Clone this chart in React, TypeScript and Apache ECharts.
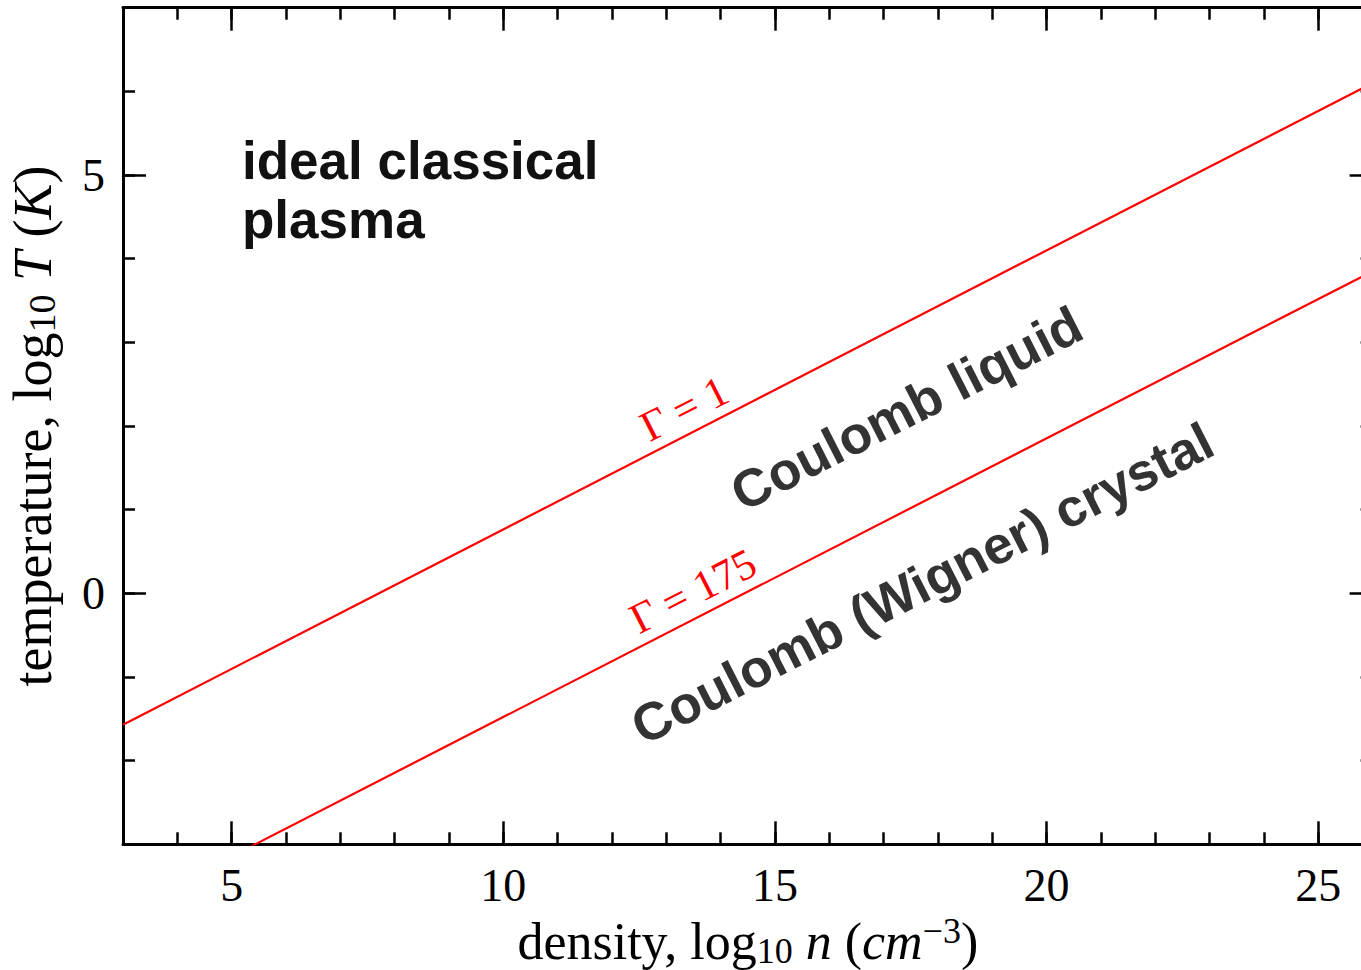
import { useEffect, useRef } from 'react';
import * as echarts from 'echarts';

// axis ranges: log10 n (cm^-3) and log10 T (K)
const X_MIN = 3;
const X_MAX = 26;
const Y_MIN = -3;
const Y_MAX = 7;

const xMajorTicks = [5, 10, 15, 20, 25];
const xMinorTicks = [3, 4, 5, 6, 7, 8, 9, 10, 11, 12, 13, 14, 15, 16, 17, 18, 19, 20, 21, 22, 23, 24, 25, 26];
const yMajorTicks = [0, 5];
const yMinorTicks = [-3, -2, -1, 0, 1, 2, 3, 4, 5, 6, 7];

// coupling-parameter boundaries, end points at the plot edges
const gammaOneLine = [
  [3, -1.57],
  [26, 6.1],
];
const gamma175Line = [
  [3, -3.81],
  [26, 3.85],
];

// annotation anchors (data coordinates)
const boundaryLabels = [
  { text: 'Γ = 1', n: 13.33, T: 2.21 },
  { text: 'Γ = 175', n: 13.49, T: 0.03 },
];
const phaseLabels = [
  { text: 'Coulomb liquid', n: 17.42, T: 2.21 },
  { text: 'Coulomb (Wigner) crystal', n: 17.71, T: 0.12 },
];
const plasmaLabels = [{ text: 'ideal classical\nplasma', n: 5.19, T: 4.82 }];

const LABEL_ANGLE = 27;
const SERIF = 'Liberation Serif';
const SANS = 'Liberation Sans';
const RED = '#ff0000';

const tickLine = { color: '#000', width: 2.5 };
const frameLine = { show: true, onZero: false, lineStyle: { color: '#000', width: 3 } };

function titleRich(size: number) {
  const sub = Math.round(size * 0.7);
  return {
    r: { fontFamily: SERIF, fontSize: size, lineHeight: 56, color: '#000' },
    i: { fontFamily: SERIF, fontSize: size, lineHeight: 56, color: '#000', fontStyle: 'italic' },
    s: { fontFamily: SERIF, fontSize: sub, lineHeight: 34, color: '#000', verticalAlign: 'bottom' },
    p: { fontFamily: SERIF, fontSize: sub, lineHeight: 28, color: '#000', verticalAlign: 'top' },
  };
}

function minorAxis(position: string, isX: boolean) {
  return {
    type: 'value',
    position,
    min: isX ? X_MIN : Y_MIN,
    max: isX ? X_MAX : Y_MAX,
    axisLine: frameLine,
    axisTick: {
      show: true,
      inside: true,
      length: 12,
      lineStyle: tickLine,
      customValues: isX ? xMinorTicks : yMinorTicks,
    },
    axisLabel: { show: false },
    splitLine: { show: false },
  };
}

function majorAxis(position: string, isX: boolean, labels: boolean) {
  const values = isX ? xMajorTicks : yMajorTicks;
  return {
    type: 'value',
    position,
    min: isX ? X_MIN : Y_MIN,
    max: isX ? X_MAX : Y_MAX,
    axisLine: { show: false, onZero: false },
    axisTick: {
      show: true,
      inside: true,
      length: 23,
      lineStyle: tickLine,
      customValues: values,
    },
    axisLabel: labels
      ? {
          show: true,
          customValues: values,
          fontFamily: SERIF,
          fontSize: 46,
          color: '#000',
          margin: 18,
        }
      : { show: false },
    splitLine: { show: false },
  };
}

function annotationSeries(items: { text: string; n: number; T: number }[], label: object) {
  return {
    type: 'scatter',
    xAxisIndex: 0,
    yAxisIndex: 0,
    symbolSize: 0,
    silent: true,
    z: 5,
    itemStyle: { opacity: 1 },
    data: items.map((d) => ({ value: [d.n, d.T], label: { formatter: d.text } })),
    label: { show: true, position: 'inside', ...label },
  };
}

export default function App() {
  const ref = useRef<HTMLDivElement>(null);

  useEffect(() => {
    if (!ref.current) return;
    const chart = echarts.init(ref.current, null, { renderer: 'svg' });

    const xBottom = majorAxis('bottom', true, true) as any;
    xBottom.name = '{r|density, log}{s|10}{r| }{i|n}{r| (}{i|cm}{p|−3}{r|)}';
    xBottom.nameLocation = 'middle';
    xBottom.nameGap = 61;
    xBottom.nameTextStyle = { rich: titleRich(52) };

    const yLeft = majorAxis('left', false, true) as any;
    yLeft.name = '{r|temperature, log}{s|10}{r| }{i|T}{r| (}{i|K}{r|)}';
    yLeft.nameLocation = 'middle';
    yLeft.nameRotate = 90;
    yLeft.nameGap = 62;
    yLeft.nameTextStyle = { rich: titleRich(54) };

    chart.setOption({
      animation: false,
      backgroundColor: '#ffffff',
      grid: {
        left: 123,
        top: 7.7,
        right: 27.4,
        bottom: 125.7,
        containLabel: false,
        outerBoundsMode: 'none',
      },
      xAxis: [
        minorAxis('bottom', true),
        xBottom,
        minorAxis('top', true),
        majorAxis('top', true, false),
      ],
      yAxis: [
        minorAxis('left', false),
        yLeft,
        minorAxis('right', false),
        majorAxis('right', false, false),
      ],
      series: [
        {
          type: 'line',
          name: 'Γ = 1',
          data: gammaOneLine,
          showSymbol: false,
          clip: true,
          lineStyle: { color: RED, width: 2.2 },
          z: 3,
        },
        {
          type: 'line',
          name: 'Γ = 175',
          data: gamma175Line,
          showSymbol: false,
          clip: true,
          lineStyle: { color: RED, width: 2.2 },
          z: 3,
        },
        annotationSeries(boundaryLabels, {
          rotate: LABEL_ANGLE,
          align: 'center',
          verticalAlign: 'middle',
          fontFamily: SERIF,
          fontSize: 43,
          color: RED,
        }),
        annotationSeries(phaseLabels, {
          rotate: LABEL_ANGLE,
          align: 'center',
          verticalAlign: 'middle',
          fontFamily: SANS,
          fontWeight: 'bold',
          fontSize: 53,
          color: '#333333',
        }),
        annotationSeries(plasmaLabels, {
          align: 'left',
          verticalAlign: 'middle',
          fontFamily: SANS,
          fontWeight: 'bold',
          fontSize: 53,
          lineHeight: 59,
          color: '#111111',
        }),
      ],
    });

    return () => chart.dispose();
  }, []);

  return (
    <div
      style={{
        position: 'fixed',
        left: 0,
        top: 0,
        width: 1361,
        height: 970,
        overflow: 'hidden',
        background: '#ffffff',
      }}
    >
      <div ref={ref} style={{ width: 1400, height: 970 }} />
    </div>
  );
}
